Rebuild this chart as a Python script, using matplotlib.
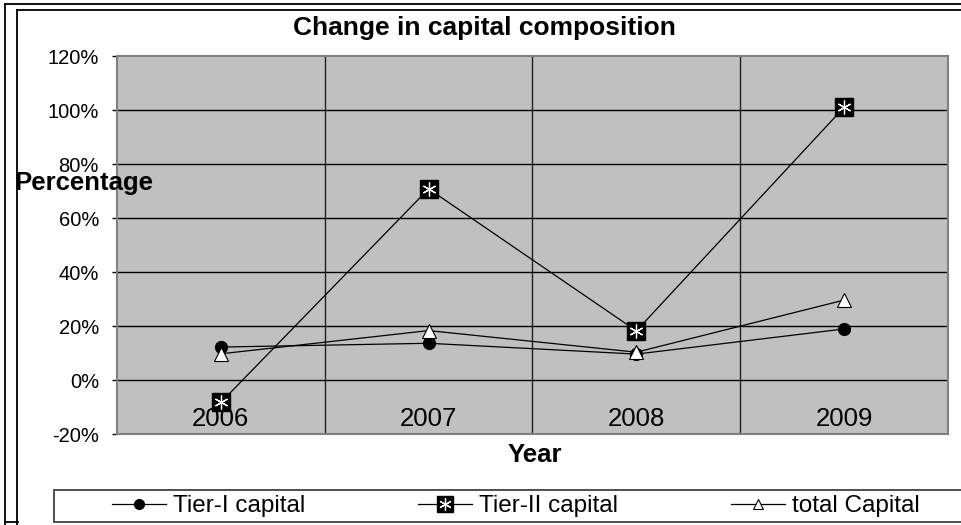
import matplotlib
matplotlib.use("Agg")
import matplotlib.pyplot as plt
from matplotlib.lines import Line2D
from matplotlib.patches import Rectangle
from matplotlib.legend_handler import HandlerTuple
from matplotlib.ticker import PercentFormatter

plt.rcParams['font.family'] = ['Liberation Sans', 'DejaVu Sans']
plt.rcParams['axes.unicode_minus'] = False

years = ['2006', '2007', '2008', '2009']
tier1 = [12.2, 13.6, 9.6, 18.9]
tier2 = [-8.3, 70.8, 18.2, 101.0]
total = [9.7, 18.3, 10.3, 29.6]
yticks = [-20, 0, 20, 40, 60, 80, 100, 120]

W, H = 962, 525
fig = plt.figure(figsize=(W / 100, H / 100), dpi=100)


def fx(px):
    return px / W


def fy(py):
    return 1 - py / H


# outer chart frames
for x0, y0 in [(5, 4), (17, 10)]:
    fig.add_artist(Line2D([fx(x0), 1.0], [fy(y0), fy(y0)], color='black', lw=1.3,
                          transform=fig.transFigure))
    fig.add_artist(Line2D([fx(x0), fx(x0)], [fy(y0), 0.0], color='black', lw=1.3,
                          transform=fig.transFigure))
fig.add_artist(Line2D([fx(5), fx(18)], [fy(522), fy(522)], color='black', lw=1.3,
                      transform=fig.transFigure))

left, right, top, bottom = 117, 948, 56, 434
ax = fig.add_axes([fx(left), fy(bottom), fx(right - left), (bottom - top) / H])
ax.set_facecolor('#c0c0c0')
for s in ax.spines.values():
    s.set_color('#808080')
    s.set_linewidth(1.5)

x = list(range(len(years)))
ax.set_xlim(-0.5, len(years) - 0.5)
ax.set_ylim(-20, 120)

# horizontal gridlines and category separators
for v in yticks[1:-1]:
    ax.axhline(v, color='black', lw=1.0, zorder=1)
for b in [0.5, 1.5, 2.5]:
    ax.axvline(b, color='#202020', lw=1.0, zorder=1)

ax.plot(x, tier1, color='black', lw=0.9, marker='o', markersize=8.5,
        markerfacecolor='black', markeredgecolor='black', zorder=3)
ax.plot(x, total, color='black', lw=0.9, marker='^', markersize=10,
        markerfacecolor='white', markeredgecolor='black', markeredgewidth=0.8, zorder=4)
ax.plot(x, tier2, color='black', lw=0.9, marker='s', markersize=13,
        markerfacecolor='black', markeredgecolor='black', zorder=5)
ax.plot(x, tier2, ls='none', marker=(6, 2, 0), markersize=10,
        markeredgecolor='white', markeredgewidth=0.9, zorder=6)

ax.set_yticks(yticks)
ax.yaxis.set_major_formatter(PercentFormatter(decimals=0))
ax.tick_params(axis='y', length=3.6, width=1.0, color='black', pad=9.4, labelsize=14.5)
ax.set_xticks(x, years)
ax.tick_params(axis='x', length=0, pad=-2, labelsize=18.5)
for lab in ax.get_xticklabels():
    lab.set_va('bottom')

fig.text(fx(484), fy(28), 'Change in capital composition', ha='center', va='center',
         fontsize=19, fontweight='bold')
fig.text(fx(14), fy(183), 'Percentage', ha='left', va='center', fontsize=18.5,
         fontweight='bold')
fig.text(fx(535), fy(455), 'Year', ha='center', va='center', fontsize=18.5,
         fontweight='bold')

# legend
fig.add_artist(Rectangle((fx(54), fy(522)), 1.2, (522 - 490) / H, transform=fig.transFigure,
                         facecolor='white', edgecolor='#404040', lw=1.3, zorder=0))
h1 = Line2D([], [], color='black', lw=0.9, marker='o', markersize=7,
            markerfacecolor='black')
h2a = Line2D([], [], color='black', lw=0.9, marker='s', markersize=12,
             markerfacecolor='black')
h2b = Line2D([], [], ls='none', marker=(6, 2, 0), markersize=9,
             markeredgecolor='white', markeredgewidth=0.9)
h3 = Line2D([], [], color='black', lw=0.9, marker='^', markersize=7,
            markerfacecolor='white', markeredgecolor='black', markeredgewidth=0.8)
fig.legend([h1, (h2a, h2b), h3], ['Tier-I capital', 'Tier-II capital', 'total Capital'],
           handler_map={tuple: HandlerTuple(ndivide=1, pad=0)},
           loc='center left', bbox_to_anchor=(fx(112), fy(506)), ncol=3,
           frameon=False, borderpad=0, borderaxespad=0, fontsize=17.5,
           handlelength=2.22, handletextpad=0.29, columnspacing=4.65)

fig.savefig('out.png', dpi=100)
